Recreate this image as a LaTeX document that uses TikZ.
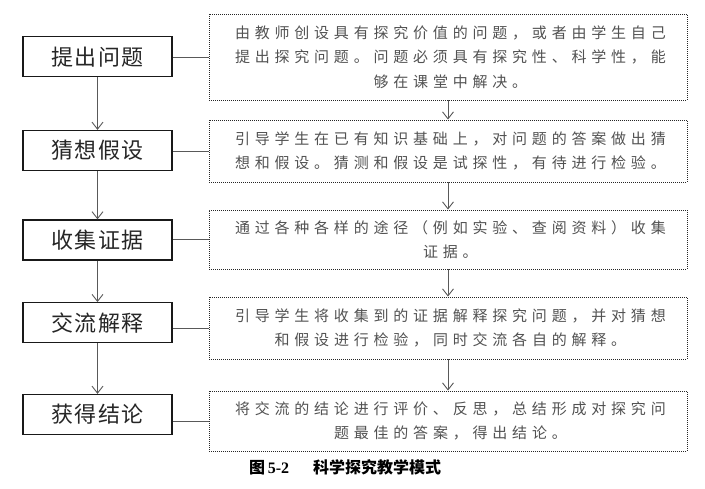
\documentclass[tikz,border=0pt]{standalone}
\usepackage{fontspec}
\setmainfont{Liberation Serif}
\newfontfamily\cjk{Noto Sans CJK SC}
\newfontfamily\cjkL[LetterSpace=6]{Noto Sans CJK SC}
\newfontfamily\cjksp[LetterSpace=32]{Noto Sans CJK SC}
\usetikzlibrary{arrows.meta}
\newcommand{\tl}{\kern-4.8pt}
\begin{document}
\begin{tikzpicture}[x=1pt,y=-1pt,
  stage/.style={draw=black!90, line width=1.3pt, minimum width=149pt, minimum height=40pt,
    inner sep=0pt, font=\fontsize{22}{24}\cjkL, text=black!85},
  desc/.style={draw=black!85, line width=0.9pt, dash pattern=on 1pt off 1pt,
    minimum width=478pt, inner sep=0pt, align=center,
    font=\fontsize{15}{24.5}\cjksp, text=black!68},
  conn/.style={draw=black!65, line width=0.9pt},
  arr/.style={conn, -{Straight Barb[length=7pt,width=11pt,line width=0.9pt]}}
]
\useasboundingbox (0,0) rectangle (705,489);
\fill[white] (0,0) rectangle (705,489);

\node[stage] (l1) at (97.5,56.7) {提出问题};
\node[stage] (l2) at (97.5,150.5) {猜想假设};
\node[stage] (l3) at (97.5,240) {收集证据};
\node[stage] (l4) at (97.5,322.7) {交流解释};
\node[stage] (l5) at (97.5,414.5) {获得结论};

\node[desc, minimum height=86pt] (r1) at (448,57)
  {由教师创设具有探究价值的问题，或者由学生自己\tl\\提出探究问题。问题必须具有探究性、科学性，能\tl\\够在课堂中解决。\tl};
\node[desc, minimum height=62pt] (r2) at (448,151)
  {引导学生在已有知识基础上，对问题的答案做出猜\tl\\想和假设。猜测和假设是试探性，有待进行检验。\tl};
\node[desc, minimum height=59pt] (r3) at (448,239.5)
  {通过各种各样的途径（例如实验、查阅资料）收集\tl\\证据。\tl};
\node[desc, minimum height=62pt] (r4) at (448,328)
  {引导学生将收集到的证据解释探究问题，并对猜想\tl\\和假设进行检验，同时交流各自的解释。\tl};
\node[desc, minimum height=60pt] (r5) at (448,421)
  {将交流的结论进行评价、反思，总结形成对探究问\tl\\题最佳的答案，得出结论。\tl};

\foreach \a/\b in {l1/l2,l2/l3,l3/l4,l4/l5,r1/r2,r2/r3,r3/r4,r4/r5}
  \draw[arr] (\a.south) -- (\b.north);
\foreach \i in {1,...,5}
  \draw[conn] (r\i.west) -- (l\i.east |- r\i.west);

\node[anchor=west, inner sep=0pt, font=\fontsize{16}{18}\bfseries] (cap) at (249,467)
  {\cjk 图\,\rmfamily 5-2\hspace{1.5em}\cjk 科学探究教学模式};
\end{tikzpicture}
\end{document}
